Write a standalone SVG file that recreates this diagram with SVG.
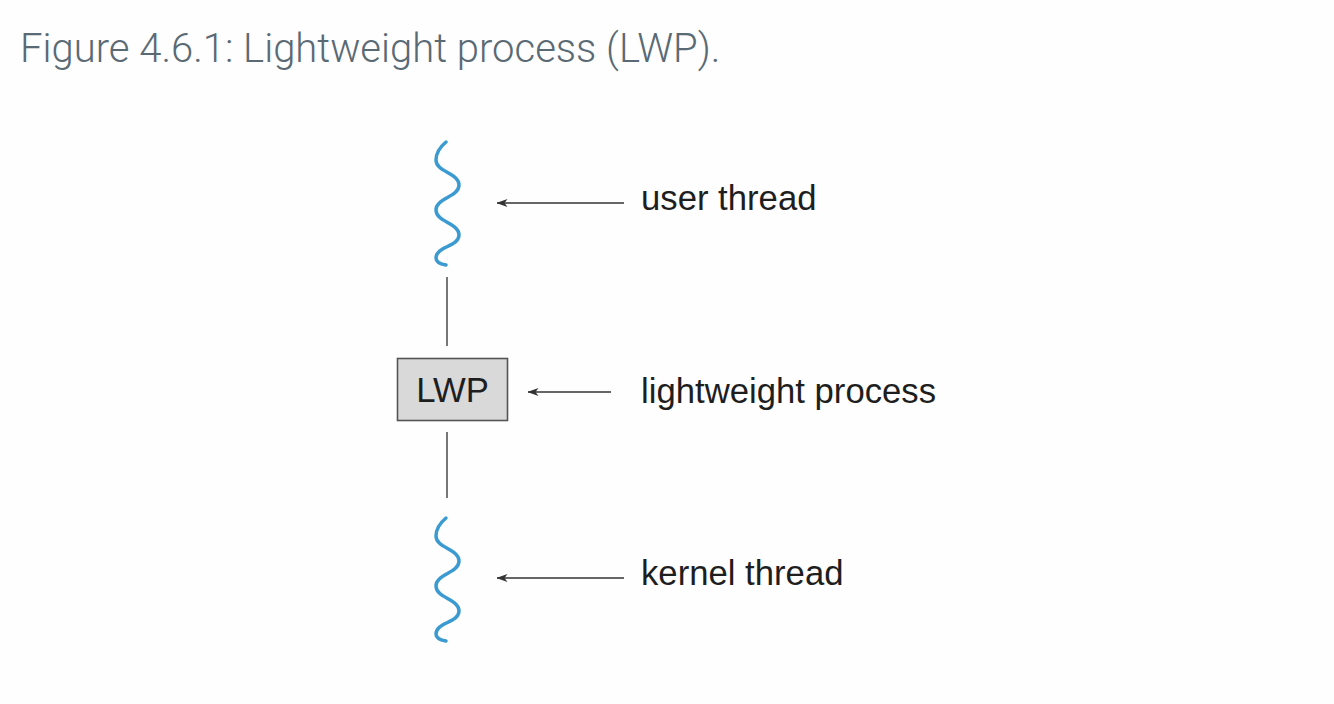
<svg xmlns="http://www.w3.org/2000/svg" width="1334" height="704" viewBox="0 0 1334 704">
<defs>
<style>
.title{font-family:Roboto,"Liberation Sans",sans-serif;font-weight:300;font-size:40px;fill:#5a6a75}
.lbl{font-family:"Liberation Sans",Arial,sans-serif;font-size:34.7px;fill:#1e1e1e}
.wave{fill:none;stroke:#3b9bd1;stroke-width:3.5;stroke-linecap:round}
.link{stroke:#555;stroke-width:1.6;fill:none}
.arr{stroke:#333;stroke-width:1.6;fill:none;marker-start:url(#ah)}
</style>
<marker id="ah" viewBox="0 0 11 8" refX="0.5" refY="4" markerWidth="11" markerHeight="8" markerUnits="userSpaceOnUse" orient="auto">
<path d="M0,4 L11,0 L8,4 L11,8 Z" fill="#333"/>
</marker>
</defs>
<rect width="1334" height="704" fill="#fefefe"/>
<text class="title" x="20" y="62">Figure 4.6.1: Lightweight process (LWP).</text>
<g id="user-thread">
<path class="wave" d="M446,142 C440,147 436,152 436,160 C436,172 459,173 459,185 C459,197 436,198 436,210 C436,222 459,223 459,235 C459,247 436,246 436,258 C436,262 440,264 446,265"/>
<text class="lbl" x="641" y="210">user thread</text>
</g>
<g id="lwp">
<rect x="397.5" y="358.5" width="110" height="62" fill="#d9d9d9" stroke="#555" stroke-width="1.6"/>
<text class="lbl" x="452.5" y="402" text-anchor="middle">LWP</text>
<text class="lbl" x="641" y="403">lightweight process</text>
</g>
<g id="kernel-thread">
<path class="wave" d="M446,518 C440,523 436,528 436,536 C436,548 459,549 459,561 C459,573 436,574 436,586 C436,598 459,599 459,611 C459,623 436,622 436,634 C436,638 440,640 446,641"/>
<text class="lbl" x="641" y="585">kernel thread</text>
</g>
<g id="connectors">
<line class="link" x1="447" y1="277" x2="447" y2="346"/>
<line class="link" x1="447" y1="432" x2="447" y2="498"/>
<path class="arr" d="M497,203 L624,203"/>
<path class="arr" d="M528,392 L611,392"/>
<path class="arr" d="M497,578 L624,578"/>
</g>
</svg>
